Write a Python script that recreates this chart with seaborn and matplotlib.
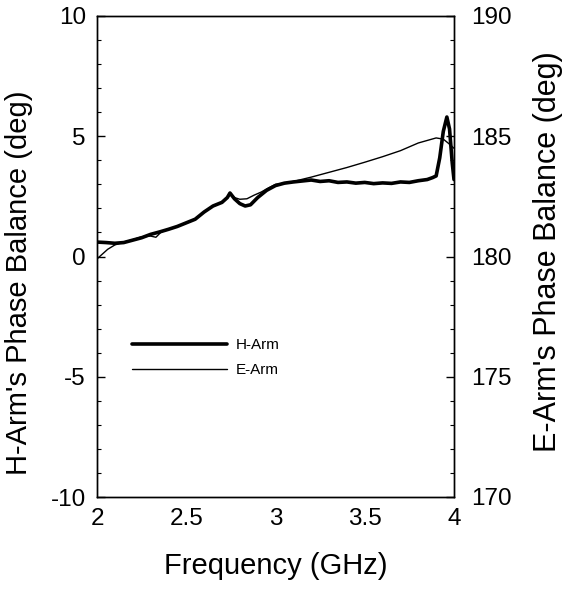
import matplotlib
matplotlib.use("Agg")
import matplotlib.pyplot as plt
from matplotlib.ticker import MultipleLocator
import seaborn as sns
import pandas as pd

# H-Arm phase balance (left axis, deg)
h_freq = [2.00, 2.05, 2.10, 2.15, 2.20, 2.25, 2.30, 2.35, 2.40, 2.45, 2.50,
          2.55, 2.60, 2.65, 2.70, 2.73, 2.745, 2.77, 2.80, 2.83, 2.86, 2.90,
          2.95, 3.00, 3.05, 3.10, 3.15, 3.20, 3.25, 3.30, 3.35, 3.40, 3.45,
          3.50, 3.55, 3.60, 3.65, 3.70, 3.75, 3.80, 3.85, 3.88, 3.90, 3.92,
          3.94, 3.96, 3.975, 3.99, 4.00]
h_phase = [0.60, 0.58, 0.55, 0.58, 0.68, 0.78, 0.92, 1.02, 1.13, 1.25, 1.40,
           1.55, 1.85, 2.10, 2.25, 2.45, 2.64, 2.40, 2.20, 2.10, 2.15, 2.45,
           2.75, 2.95, 3.05, 3.10, 3.14, 3.18, 3.12, 3.15, 3.08, 3.10, 3.05,
           3.08, 3.03, 3.06, 3.04, 3.10, 3.08, 3.15, 3.20, 3.28, 3.35, 4.10,
           5.20, 5.80, 5.30, 3.90, 3.20]

# E-Arm phase balance (right axis, deg)
e_freq = [2.00, 2.03, 2.06, 2.10, 2.15, 2.20, 2.25, 2.30, 2.33, 2.36, 2.40,
          2.45, 2.50, 2.55, 2.60, 2.65, 2.70, 2.73, 2.745, 2.77, 2.80, 2.84,
          2.88, 2.92, 2.96, 3.00, 3.05, 3.10, 3.20, 3.30, 3.40, 3.50, 3.60,
          3.70, 3.80, 3.90, 3.94, 3.97, 4.00]
e_phase = [179.90, 180.10, 180.30, 180.48, 180.60, 180.70, 180.82, 180.85,
           180.80, 181.02, 181.12, 181.25, 181.40, 181.55, 181.85, 182.10,
           182.25, 182.45, 182.60, 182.45, 182.38, 182.40, 182.55, 182.68,
           182.85, 183.00, 183.05, 183.12, 183.30, 183.50, 183.70, 183.92,
           184.15, 184.40, 184.72, 184.93, 184.88, 184.70, 184.50]

h_df = pd.DataFrame({"freq": h_freq, "phase": h_phase})
e_df = pd.DataFrame({"freq": e_freq, "phase": e_phase})

sns.set_theme(style="white")
plt.rcParams["font.family"] = ["Liberation Sans", "DejaVu Sans"]
plt.rcParams["axes.unicode_minus"] = False
plt.rcParams["text.color"] = "black"
plt.rcParams["axes.labelcolor"] = "black"
plt.rcParams["xtick.color"] = "black"
plt.rcParams["ytick.color"] = "black"

fig = plt.figure(figsize=(5.67, 5.94), dpi=100)
ax = fig.add_axes([97 / 567, 1 - 497 / 594, 357 / 567, 481 / 594])
ax2 = ax.twinx()

sns.lineplot(data=h_df, x="freq", y="phase", ax=ax, color="black",
             linewidth=2.6, label="H-Arm", legend=False)
sns.lineplot(data=e_df, x="freq", y="phase", ax=ax2, color="black",
             linewidth=1.0, label="E-Arm", legend=False)

ax.set_xlim(2, 4)
ax.set_ylim(-10, 10)
ax2.set_ylim(170, 190)

ax.xaxis.set_major_locator(MultipleLocator(0.5))
ax.xaxis.set_minor_locator(MultipleLocator(0.1))
ax.yaxis.set_major_locator(MultipleLocator(5))
ax.yaxis.set_minor_locator(MultipleLocator(1))
ax2.yaxis.set_major_locator(MultipleLocator(5))
ax2.yaxis.set_minor_locator(MultipleLocator(1))
ax.set_xticks([2, 2.5, 3, 3.5, 4], ["2", "2.5", "3", "3.5", "4"])

for a in (ax, ax2):
    for s in a.spines.values():
        s.set_color("black")
        s.set_linewidth(1.0)
ax.tick_params(axis="both", which="major", direction="in", length=6,
               width=1, color="black", labelcolor="black", labelsize=17.5,
               pad=8, top=False, right=False)
ax.tick_params(axis="both", which="minor", direction="in", length=3,
               width=0.8, color="black", top=False, right=False)
ax2.tick_params(axis="y", which="major", direction="in", length=6, width=1,
                color="black", labelcolor="black", labelsize=17.5, pad=12)
ax2.tick_params(axis="y", which="minor", direction="in", length=3,
                width=0.8, color="black")

ax.set_xlabel("Frequency (GHz)", fontsize=21, labelpad=16, color="black")
ax.set_ylabel("H-Arm's Phase Balance (deg)", fontsize=21, color="black")
ax2.set_ylabel("E-Arm's Phase Balance (deg)", fontsize=22, color="black")
ax.yaxis.set_label_coords(-0.18, 0.445)
ax2.yaxis.set_label_coords(1.22, 0.51)

handles = ax.get_lines()[:1] + ax2.get_lines()[:1]
ax.legend(handles, ["H-Arm", "E-Arm"], frameon=False, fontsize=11,
          loc="upper left", bbox_to_anchor=(132 / 567, 1 - 338 / 594),
          bbox_transform=fig.transFigure, borderpad=0, borderaxespad=0,
          handlelength=6.2, handletextpad=0.6, labelspacing=0.75,
          labelcolor="black")

fig.savefig("out.png", dpi=100)
